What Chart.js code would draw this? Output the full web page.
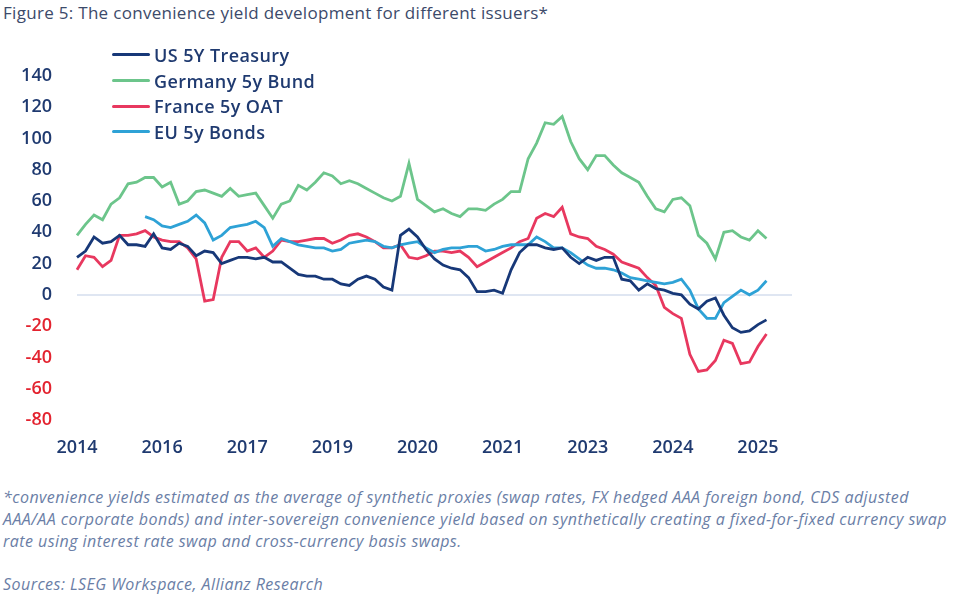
<!DOCTYPE html>
<html>
<head>
<meta charset="utf-8">
<script src="https://cdn.jsdelivr.net/npm/chart.js@4.4.1/dist/chart.umd.min.js"></script>
<style>
  html, body { margin: 0; padding: 0; background: #fff; }
  body { width: 961px; height: 604px; position: relative; overflow: hidden; font-family: "Open Sans", "Noto Sans", sans-serif; }
  #title { position: absolute; left: 3px; top: 1px; font-size: 17px; letter-spacing: 0.3px; color: #3c4a6a; white-space: nowrap; }
  #wrap { position: absolute; left: 0; top: 40px; width: 820px; height: 430px; }
  #legend { position: absolute; left: 112px; top: 42px; }
  .item { height: 25.7px; display: flex; align-items: center; font-size: 18px; font-weight: 600; letter-spacing: 0.4px; color: #1f3a70; }
  .swatch { width: 38px; height: 3px; margin-right: 4px; border-radius: 2px; }
  #notes { position: absolute; left: 3px; top: 486px; font-size: 16px; letter-spacing: 0.45px; font-style: italic; color: #6a7ea6; line-height: 22px; white-space: nowrap; }
  #src { position: absolute; left: 3px; top: 573px; font-size: 16px; letter-spacing: 0.45px; font-style: italic; color: #6a7ea6; white-space: nowrap; }
</style>
</head>
<body>
<div id="title">Figure 5: The convenience yield development for different issuers*</div>
<div id="wrap"><canvas id="chart"></canvas></div>
<div id="legend"></div>
<div id="notes">*convenience yields estimated as the average of synthetic proxies (swap rates, FX hedged AAA foreign bond, CDS adjusted<br>AAA/AA corporate bonds) and inter-sovereign convenience yield based on synthetically creating a fixed-for-fixed currency swap<br>rate using interest rate swap and cross-currency basis swaps.</div>
<div id="src">Sources: LSEG Workspace, Allianz Research</div>
<script>
// tick labels shown every 10 points along the category axis
const tickYears = ['2014', '2016', '2017', '2019', '2020', '2021', '2023', '2024', '2025'];
const pointCount = 85;

const usTreasury = [
  24, 28, 37, 33, 34, 38, 32, 32, 31, 39,
  30, 29, 33, 31, 25, 28, 27, 20, 22, 24,
  24, 23, 24, 21, 21, 17, 13, 12, 12, 10,
  10, 7, 6, 10, 12, 10, 5, 3, 38, 42,
  37, 29, 23, 19, 17, 16, 11, 2, 2, 3,
  1, 16, 27, 32, 32, 30, 29, 30, 24, 20,
  24, 22, 24, 24, 10, 9, 3, 7, 4, 3,
  1, 0, -6, -9, -4, -2, -13, -21, -24, -23,
  -19, -16
];
const germanyBund = [
  38, 45, 51, 48, 58, 62, 71, 72, 75, 75,
  69, 72, 58, 60, 66, 67, 65, 63, 68, 63,
  64, 65, 57, 49, 58, 60, 70, 67, 72, 78,
  76, 71, 73, 71, 68, 65, 62, 60, 63, 84,
  61, 57, 53, 55, 52, 50, 55, 55, 54, 58,
  61, 66, 66, 87, 97, 110, 109, 114, 98, 87,
  80, 89, 89, 83, 78, 75, 72, 63, 55, 53,
  61, 62, 57, 38, 33, 23, 40, 41, 37, 35,
  41, 36
];
const franceOat = [
  16, 25, 24, 18, 22, 38, 38, 39, 41, 37,
  35, 34, 34, 30, 23, -4, -3, 24, 34, 34,
  28, 30, 24, 28, 35, 34, 34, 35, 36, 36,
  33, 35, 38, 39, 37, 34, 30, 30, 32, 24,
  23, 25, 28, 28, 27, 28, 24, 18, 21, 24,
  27, 30, 34, 36, 49, 52, 50, 56, 39, 37,
  36, 31, 29, 26, 21, 19, 17, 11, 6, -8,
  -12, -15, -38, -49, -48, -42, -29, -31, -44, -43,
  -33, -25
];
const euBonds = [
  null, null, null, null, null, null, null, null, 50, 48,
  44, 43, 45, 47, 51, 46, 35, 38, 43, 44,
  45, 47, 43, 31, 36, 34, 32, 31, 30, 30,
  28, 29, 33, 34, 35, 34, 31, 30, 32, 33,
  34, 30, 27, 29, 30, 30, 31, 31, 28, 29,
  31, 32, 32, 32, 37, 34, 30, 30, 27, 23,
  19, 17, 17, 16, 14, 11, 10, 9, 8, 7,
  8, 10, 3, -9, -15, -15, -5, -1, 3, 0,
  3, 9
];

const seriesNames = ['US 5Y Treasury', 'Germany 5y Bund', 'France 5y OAT', 'EU 5y Bonds'];
const seriesColors = ['#173878', '#6cc58b', '#e8385f', '#2ea2d6'];

const categories = Array.from({ length: pointCount }, (_, i) => String(i));

const datasets = [usTreasury, germanyBund, franceOat, euBonds].map((vals, k) => ({
  label: seriesNames[k],
  data: vals,
  borderColor: seriesColors[k],
  borderWidth: 2.8,
  pointRadius: 0,
  tension: 0,
  spanGaps: false
}));

// US line on top, green at the back
datasets[0].order = 0;
datasets[1].order = 3;
datasets[2].order = 2;
datasets[3].order = 1;

const legend = document.getElementById('legend');
seriesNames.forEach((name, k) => {
  legend.innerHTML += `<div class="item"><span class="swatch" style="background:${seriesColors[k]}"></span>${name}</div>`;
});

new Chart(document.getElementById('chart'), {
  type: 'line',
  data: { labels: categories, datasets: datasets },
  options: {
    responsive: true,
    maintainAspectRatio: false,
    animation: false,
    layout: { padding: { top: 26, right: 28, left: 0, bottom: 0 } },
    plugins: { legend: { display: false }, tooltip: { enabled: false } },
    scales: {
      x: {
        type: 'category',
        grid: { display: false, drawTicks: false },
        border: { display: false },
        afterFit: (scale) => { scale.height = 50; },
        ticks: {
          autoSkip: false,
          maxRotation: 0,
          padding: 17,
          color: '#1f3a70',
          font: { family: 'Open Sans', size: 18, weight: '600' },
          callback: (val, i) => (i % 10 === 0 && tickYears[i / 10]) ? tickYears[i / 10] : null
        }
      },
      y: {
        min: -80,
        max: 140,
        afterFit: (scale) => { scale.width = 77; },
        border: { display: false },
        grid: {
          drawTicks: false,
          lineWidth: 2,
          color: (ctx) => ctx.tick && ctx.tick.value === 0 ? '#dfe6f2' : 'rgba(0,0,0,0)'
        },
        ticks: {
          stepSize: 20,
          padding: 25,
          color: (ctx) => ctx.tick && ctx.tick.value < 0 ? '#e3232f' : '#1f3a70',
          font: { family: 'Open Sans', size: 18, weight: '600' }
        }
      }
    }
  }
});
</script>
</body>
</html>
